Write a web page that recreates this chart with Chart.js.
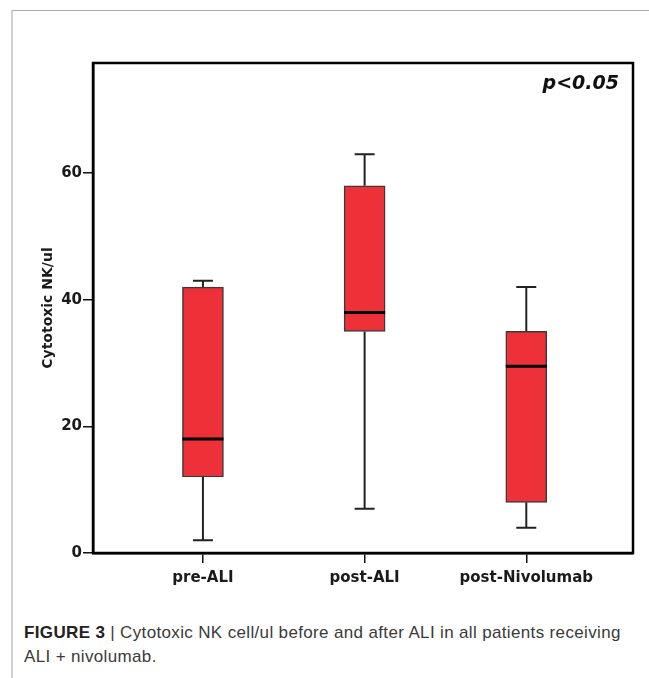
<!DOCTYPE html>
<html>
<head>
<meta charset="utf-8">
<script src="https://cdn.jsdelivr.net/npm/chart.js@4/dist/chart.umd.min.js"></script>
<style>
  html, body { margin: 0; padding: 0; background: #fff; }
  body { width: 649px; height: 678px; position: relative; overflow: hidden; }
  #frame {
    position: absolute; left: 11px; top: 10px; width: 660px; height: 700px;
    border-top: 1px solid #a9a9a9; border-left: 2px solid #d0d0d0;
  }
  #chartWrap { position: absolute; left: 0; top: 0; width: 649px; height: 610px; }
  #caption {
    position: absolute; left: 24px; top: 621px; width: 625px;
    font-family: "Liberation Sans", Arial, sans-serif; font-size: 17px;
    letter-spacing: 0.35px; line-height: 24px; color: #3a3a3a; white-space: nowrap;
  }
  #caption b { color: #222; }
</style>
</head>
<body>
<div id="frame"></div>
<div id="chartWrap"><canvas id="boxChart" width="649" height="610"></canvas></div>
<div id="caption"><b>FIGURE 3</b> | Cytotoxic NK cell/ul before and after ALI in all patients receiving<br>ALI + nivolumab.</div>

<script>
// data
const categories = ['pre-ALI', 'post-ALI', 'post-Nivolumab'];
const whiskerLow = [2, 7, 4];
const q1 = [12, 35, 8];
const medians = [18, 38, 29.5];
const q3 = [42, 58, 35];
const whiskerHigh = [43, 63, 42];
const yTicks = [0, 20, 40, 60];
const pText = 'p<0.05';

const boxData = categories.map((c, i) => ({ x: i + 1, y: [q1[i], q3[i]] }));

// whiskers + caps go under the boxes, medians on top
const boxPlotPlugin = {
  id: 'boxPlot',
  beforeDatasetsDraw(chart) {
    const { ctx, scales: { x, y } } = chart;
    ctx.save();
    ctx.strokeStyle = '#222';
    ctx.lineWidth = 2;
    categories.forEach((c, i) => {
      const px = x.getPixelForValue(i + 1);
      const capHalf = 10;
      ctx.beginPath();
      ctx.moveTo(px, y.getPixelForValue(whiskerLow[i]));
      ctx.lineTo(px, y.getPixelForValue(q1[i]));
      ctx.moveTo(px, y.getPixelForValue(q3[i]));
      ctx.lineTo(px, y.getPixelForValue(whiskerHigh[i]));
      ctx.moveTo(px - capHalf, y.getPixelForValue(whiskerLow[i]));
      ctx.lineTo(px + capHalf, y.getPixelForValue(whiskerLow[i]));
      ctx.moveTo(px - capHalf, y.getPixelForValue(whiskerHigh[i]));
      ctx.lineTo(px + capHalf, y.getPixelForValue(whiskerHigh[i]));
      ctx.stroke();
    });
    ctx.restore();
  },
  afterDatasetsDraw(chart) {
    const { ctx, scales: { y } } = chart;
    const meta = chart.getDatasetMeta(0);
    ctx.save();
    ctx.strokeStyle = '#000';
    ctx.lineWidth = 3;
    meta.data.forEach((bar, i) => {
      const py = y.getPixelForValue(medians[i]);
      ctx.beginPath();
      ctx.moveTo(bar.x - bar.width / 2, py);
      ctx.lineTo(bar.x + bar.width / 2, py);
      ctx.stroke();
    });
    ctx.restore();
  },
  afterDraw(chart) {
    const { ctx, chartArea: a } = chart;
    ctx.save();
    // full black frame round the plot
    ctx.strokeStyle = '#000';
    ctx.lineWidth = 2.5;
    ctx.strokeRect(a.left, a.top, a.right - a.left, a.bottom - a.top);
    ctx.fillStyle = '#111';
    ctx.font = 'italic bold 19px "DejaVu Sans"';
    ctx.textAlign = 'right';
    ctx.textBaseline = 'alphabetic';
    ctx.fillText(pText, a.right - 14, a.top + 26);
    ctx.restore();
  }
};

new Chart(document.getElementById('boxChart'), {
  type: 'bar',
  data: {
    datasets: [{
      data: boxData,
      backgroundColor: '#ee3039',
      borderColor: '#3a3a3a',
      borderWidth: 1.5,
      borderSkipped: false,
      barThickness: 41
    }]
  },
  options: {
    responsive: false,
    animation: false,
    layout: { padding: { top: 63, right: 16, left: 0, bottom: 0 } },
    plugins: { legend: { display: false }, tooltip: { enabled: false } },
    scales: {
      x: {
        type: 'linear',
        offset: false,
        min: 0.32,
        max: 3.66,
        afterBuildTicks: scale => { scale.ticks = categories.map((c, i) => ({ value: i + 1 })); },
        afterFit: scale => { scale.height = 57; },
        ticks: {
          callback: v => categories[v - 1],
          color: '#1a1a1a',
          font: { family: 'DejaVu Sans', weight: 'bold', size: 15 },
          padding: 6,
          maxRotation: 0
        },
        grid: { offset: false, drawOnChartArea: false, tickLength: 10, color: '#111', lineWidth: 1.5 },
        border: { display: true, color: '#000', width: 2.5 }
      },
      y: {
        min: 0,
        max: 77.4,
        afterBuildTicks: scale => { scale.ticks = yTicks.map(v => ({ value: v })); },
        afterFit: scale => { scale.width = 93; },
        ticks: {
          color: '#1a1a1a',
          font: { family: 'DejaVu Sans', weight: 'bold', size: 15 },
          padding: 1
        },
        grid: { drawOnChartArea: false, tickLength: 10, color: '#111', lineWidth: 1.5 },
        border: { display: true, color: '#000', width: 2.5 },
        title: {
          display: true,
          text: 'Cytotoxic NK/ul',
          color: '#1a1a1a',
          font: { family: 'DejaVu Sans', weight: 'bold', size: 14 },
          padding: { top: 40, bottom: 0 }
        }
      }
    }
  },
  plugins: [boxPlotPlugin]
});
</script>
</body>
</html>
